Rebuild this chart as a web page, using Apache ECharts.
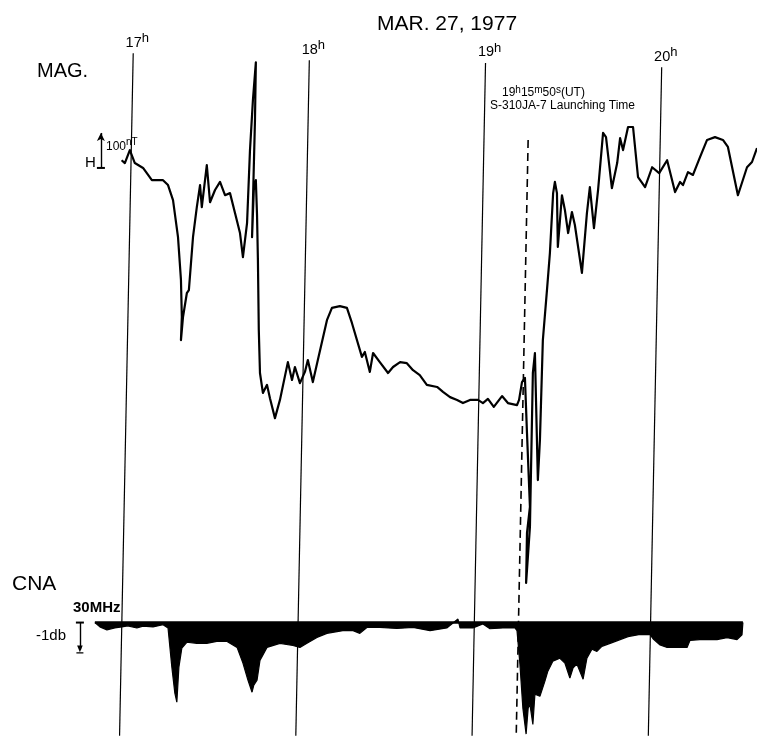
<!DOCTYPE html>
<html><head><meta charset="utf-8">
<script src="https://cdn.jsdelivr.net/npm/echarts/dist/echarts.min.js"></script>
<style>html,body{margin:0;padding:0;background:#fff}#c{width:757px;height:740px}</style>
</head><body><div id="c"></div>
<script>
// Time in minutes after 17:00 UT, 27 March 1977
const magTime = [-1.6,-0.5,1.2,2.9,5.7,8.7,12.5,14.2,15.9,17.6,
  18.6,18.9,18.6,19.3,20.6,21.3,22.7,24.0,25.1,25.7,
  27.4,28.5,30.2,31.9,33.6,35.3,37.0,38.7,39.7,41.1,
  42.1,43.1,44.1,43.8,42.8,43.4,44.1,44.5,44.8,45.1,
  45.5,46.5,47.9,48.9,50.6,52.3,55.0,56.4,57.4,59.1,
  60.8,61.8,63.5,65.2,68.3,70.0,72.7,75.1,76.8,80.2,
  81.2,82.9,84.0,86.3,89.1,90.8,93.2,95.5,97.6,99.9,
  102.3,105.8,107.8,110.2,112.6,114.6,117.0,119.7,121.4,123.1,
  125.1,127.9,129.9,133.0,133.7,134.7,135.7,136.4,137.4,136.4,
  136.1,137.4,138.4,139.1,140.1,140.8,141.8,143.2,144.2,145.3,
  145.9,146.6,146.9,148.3,149.3,150.4,151.7,152.7,155.1,156.8,
  157.8,159.2,160.6,162.3,163.3,165.3,167.1,168.1,169.1,170.8,
  172.5,174.2,176.6,179.0,181.4,184.1,186.8,188.5,189.5,191.2,
  192.9,195.3,197.7,200.4,203.1,204.8,208.2,211.3,213.0,214.7];
// H component, nT (relative)
const magH = [-29,-37,0,-37,-51,-86,-86,-100,-143,-249,
  -371,-477,-543,-477,-409,-400,-249,-163,-100,-163,
  -43,-149,-114,-91,-129,-123,-180,-237,-306,-209,
  0,143,251,86,-249,-114,-86,-186,-314,-514,
  -637,-694,-671,-709,-766,-714,-606,-657,-620,-666,
  -634,-600,-663,-600,-486,-451,-446,-451,-494,-591,
  -577,-634,-580,-606,-637,-620,-606,-609,-629,-643,
  -671,-677,-691,-706,-714,-723,-714,-714,-723,-711,
  -734,-703,-723,-729,-714,-663,-651,-809,-1020,-1094,
  -1237,-1077,-637,-580,-943,-829,-543,-400,-294,-123,
  -91,-123,-277,-129,-171,-237,-177,-214,-351,-180,
  -106,-223,-114,49,37,-109,-37,34,0,66,
  66,-77,-106,-49,-66,-29,-120,-91,-100,-63,
  -71,-20,29,37,29,9,-129,-49,-34,6];
// CNA 30 MHz, minutes after 17:00 UT
const cnaTime = [-10.7,-9.0,-6.6,-3.9,-1.5,0.5,3.6,5.7,9.1,12.5,
  14.2,15.5,16.5,17.2,17.9,18.9,20.6,24.0,27.4,30.8,
  34.3,37.7,39.7,41.4,42.8,43.4,44.5,45.5,47.9,52.3,
  56.7,59.1,61.5,64.9,68.3,73.7,77.2,79.5,81.9,86.3,
  92.1,97.6,103.4,109.1,112.9,113.6,118.0,121.4,123.8,128.2,
  132.3,133.0,134.0,135.0,136.1,136.8,137.4,138.4,139.1,140.8,
  142.5,143.5,145.2,147.6,149.3,151.0,152.1,153.4,155.5,156.8,
  158.5,160.2,161.9,164.7,168.1,170.8,174.9,178.3,179.3,181.7,
  184.1,187.5,190.9,191.9,196.4,201.1,204.5,207.9,209.6,209.9];
// absorption, dB
const cnaDb = [0,-0.16,-0.27,-0.2,-0.16,-0.12,-0.2,-0.13,-0.16,-0.08,
  -0.2,-1.65,-2.6,-2.95,-1.65,-0.95,-0.73,-0.77,-0.77,-0.7,
  -0.7,-0.92,-1.5,-2.13,-2.58,-2.32,-2.13,-1.4,-0.92,-0.77,
  -0.85,-0.92,-0.77,-0.55,-0.4,-0.3,-0.3,-0.4,-0.18,-0.18,
  -0.22,-0.18,-0.3,-0.2,0.13,-0.2,-0.2,-0.05,-0.23,-0.2,
  -0.2,-0.3,-1.55,-3.17,-4.13,-3.17,-3.03,-3.77,-2.65,-2.73,
  -2.17,-1.8,-1.43,-1.32,-1.5,-2.06,-1.68,-1.54,-2.1,-1.32,
  -0.99,-1.07,-0.88,-0.77,-0.63,-0.52,-0.44,-0.45,-0.6,-0.83,
  -0.92,-0.92,-0.92,-0.66,-0.62,-0.63,-0.56,-0.63,-0.45,0];
const hourTicks = [0, 60, 120, 180];
const hourLabels = ['17', '18', '19', '20'];
const launchMin = 135 + 50/60; // 19h15m50s UT
const magScaleNT = 100;
const cnaScaleDb = 1;

// ---- layout / style ----
const FONT = '"Liberation Sans", Arial, sans-serif';
const skew = h => 1.688 + 0.002382 * h;   // chart-paper slant of time marks
const hourTopNT = [277, 257, 249, 237];
const bottomNT = -1674;
const serif = 'path://M0,0 L10,0 L10,1 L0,1 Z';
const arrowBar = 'path://M0,0 L10,0 L10,1.5 L0,1.5 Z M5,1.5 L9,10 L1,10 Z';

const hourLines = hourTicks.map((t, i) => [
  { coord: [t + skew(hourTopNT[i]), hourTopNT[i]],
    label: { show: true, position: 'start', distance: 3,
      formatter: '{p|}{n|' + hourLabels[i] + '}{h|h}',
      rich: {
        p: { width: 8 },
        n: { fontFamily: FONT, fontSize: 14.5, color: '#000', verticalAlign: 'bottom' },
        h: { fontFamily: FONT, fontSize: 13, color: '#000', padding: [0, 0, 5, 0], verticalAlign: 'top' }
      } } },
  { coord: [t + skew(bottomNT), bottomNT] }
]);
const launchTopNT = 29;
const launchLine = [[
  { coord: [launchMin + skew(launchTopNT) - 0.8, launchTopNT] },
  { coord: [launchMin + skew(-1671) - 0.8, -1671] }
]];
const hBarT = -8.65, cBarT = -15.8;

const option = {
  animation: false,
  backgroundColor: '#fff',
  grid: { left: 0, right: 0, top: 0, bottom: 0 },
  xAxis: { type: 'value', min: -43.0, max: 214.7, show: false },
  yAxis: [
    { type: 'value', min: -1686, max: 429, show: false },
    { type: 'value', min: -4.35, max: 23.06, show: false }
  ],
  series: [
    { type: 'line', name: 'hours', data: [], silent: true,
      markLine: { silent: true, symbol: ['none', 'none'], animation: false,
        lineStyle: { color: '#000', width: 1.2, type: 'solid' },
        data: hourLines } },
    { type: 'line', name: 'launch', data: [], silent: true,
      markLine: { silent: true, symbol: ['none', 'none'], animation: false,
        lineStyle: { color: '#000', width: 1.6, type: [8, 5] },
        label: { show: false }, data: launchLine } },
    { type: 'line', name: 'MAG', yAxisIndex: 0, showSymbol: false, symbol: 'none',
      data: magTime.map((t, i) => [t, magH[i]]),
      lineStyle: { color: '#000', width: 2.2, join: 'round' }, z: 5,
      markLine: { silent: true, animation: false, label: { show: false },
        lineStyle: { color: '#000', width: 1.4, type: 'solid' },
        data: [[{ coord: [hBarT, -51], symbol: serif, symbolSize: [8, 2] },
                { coord: [hBarT, -51 + magScaleNT], symbol: 'arrow', symbolSize: [6, 8] }]] } },
    { type: 'line', name: 'CNA', yAxisIndex: 1, showSymbol: false, symbol: 'none',
      data: cnaTime.map((t, i) => [t, cnaDb[i]]),
      lineStyle: { color: '#000', width: 1.2 },
      areaStyle: { color: '#000', opacity: 1, origin: 0 },
      markLine: { silent: true, animation: false, label: { show: false },
        lineStyle: { color: '#000', width: 1.4, type: 'solid' },
        data: [[{ coord: [cBarT, 0], symbol: serif, symbolSize: [8, 2] },
                { coord: [cBarT, -cnaScaleDb], symbol: arrowBar, symbolSize: [7, 8] }]] } },
    { type: 'line', name: 'CNA ref', yAxisIndex: 1, showSymbol: false, symbol: 'none',
      data: [[cnaTime[0], 0], [cnaTime[cnaTime.length - 1], 0]],
      lineStyle: { color: '#000', width: 2.5 } }
  ],
  graphic: [
    { type: 'text', x: 377, y: 24, style: { text: 'MAR. 27, 1977', font: '21px ' + FONT, fill: '#000', verticalAlign: 'middle' } },
    { type: 'text', x: 37, y: 71, style: { text: 'MAG.', font: '20px ' + FONT, fill: '#000', verticalAlign: 'middle' } },
    { type: 'text', x: 12, y: 584, style: { text: 'CNA', font: '21px ' + FONT, fill: '#000', verticalAlign: 'middle' } },
    { type: 'text', x: 73, y: 608, style: { text: '30MHz', font: 'bold 15px ' + FONT, fill: '#000', verticalAlign: 'middle' } },
    { type: 'text', x: 36, y: 636, style: { text: '-1db', font: '15px ' + FONT, fill: '#000', verticalAlign: 'middle' } },
    { type: 'text', x: 85, y: 163, style: { text: 'H', font: '15px ' + FONT, fill: '#000', verticalAlign: 'middle' } },
    { type: 'text', x: 106, y: 145, style: { text: '{a|100}{s|nT}', verticalAlign: 'middle',
        rich: { a: { fontFamily: FONT, fontSize: 12, color: '#000', verticalAlign: 'bottom' },
                s: { fontFamily: FONT, fontSize: 10, color: '#000', padding: [0, 0, 5, 0], verticalAlign: 'top' } } } },
    { type: 'text', x: 502, y: 92, style: { text: '{a|19}{s|h}{a|15}{s|m}{a|50}{s|s}{a|(UT)}', verticalAlign: 'middle',
        rich: { a: { fontFamily: FONT, fontSize: 12, color: '#000', verticalAlign: 'bottom' },
                s: { fontFamily: FONT, fontSize: 10, color: '#000', padding: [0, 0, 4, 0], verticalAlign: 'top' } } } },
    { type: 'text', x: 490, y: 106, style: { text: 'S-310JA-7 Launching Time', font: '12px ' + FONT, fill: '#000', verticalAlign: 'middle' } }
  ]
};
const chart = echarts.init(document.getElementById('c'), null, { renderer: 'canvas' });
chart.setOption(option);
</script>
</body></html>
